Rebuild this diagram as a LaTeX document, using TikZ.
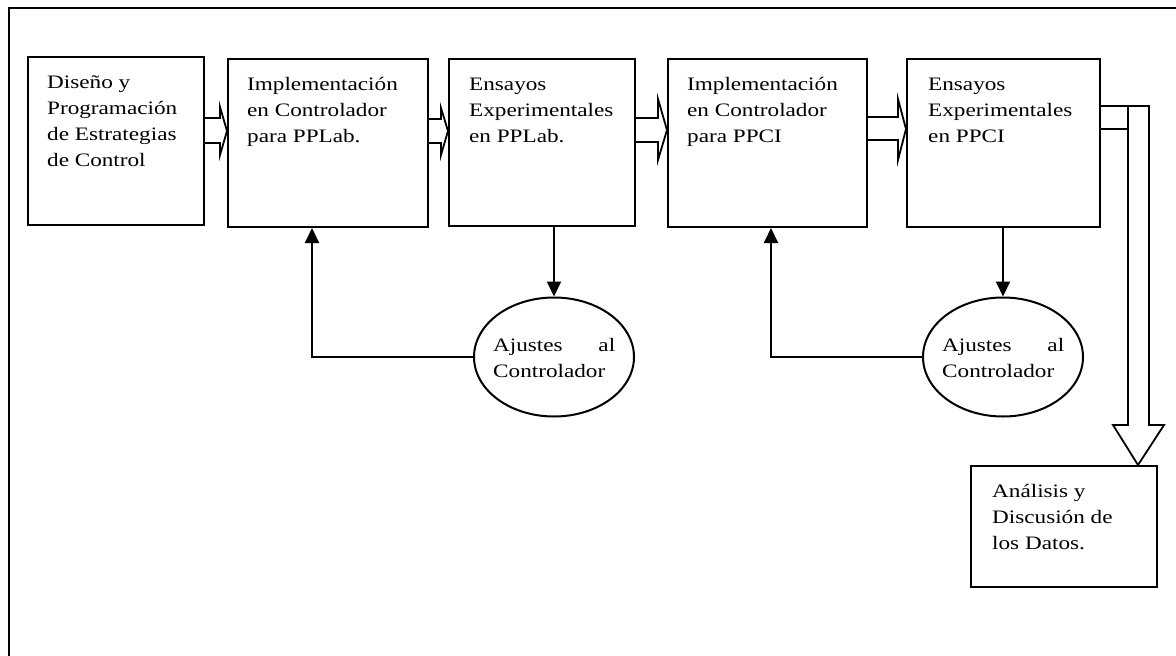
\documentclass[tikz,border=0pt]{standalone}
\usepackage{fontspec}
\setmainfont{Liberation Serif}[FakeStretch=1.22]
\usetikzlibrary{arrows.meta,shapes.geometric,calc}

\begin{document}
\begin{tikzpicture}[x=1pt,y=-1pt,
  border/.style={line width=2pt},
  stage/.style={draw,line width=2pt,inner sep=0pt,anchor=north west},
  oval/.style={draw,ellipse,line width=2pt,inner sep=0pt,minimum width=160pt,minimum height=119pt},
  caption/.style={anchor=north west,inner sep=0pt,align=left,font=\fontsize{19}{26}\selectfont},
  flow/.style={line width=2pt,-{Triangle[width=14pt,length=15pt]}},
  blockline/.style={line width=1.8pt,line join=miter}]

\useasboundingbox (0,0) rectangle (1176,656);

% outer frame (only top and left edges fall inside the page)
\draw[border] (1176,8) -- (9,8) -- (9,656);

% process stages
\node[stage,minimum width=176pt,minimum height=168pt] (b1) at (27,56) {};
\node[stage,minimum width=200pt,minimum height=168pt] (b2) at (227,58) {};
\node[stage,minimum width=186pt,minimum height=167pt] (b3) at (448,58) {};
\node[stage,minimum width=199pt,minimum height=168pt] (b4) at (667,58) {};
\node[stage,minimum width=193pt,minimum height=168pt] (b5) at (906,58) {};
\node[stage,minimum width=186pt,minimum height=121pt] (b6) at (970,465) {};

\node[caption] (t1) at ($(b1.north west)+(20,14.5)$) {\strut Diseño y\\Programación\\de Estrategias\\de Control};
\node[caption] (t2) at ($(b2.north west)+(20,14.5)$) {\strut Implementación\\en Controlador\\para PPLab.};
\node[caption] (t3) at ($(b3.north west)+(21,14.5)$) {\strut Ensayos\\Experimentales\\en PPLab.};
\node[caption] (t4) at ($(b4.north west)+(20,14.5)$) {\strut Implementación\\en Controlador\\para PPCI};
\node[caption] (t5) at ($(b5.north west)+(22,14.5)$) {\strut Ensayos\\Experimentales\\en PPCI};
\node[caption] (t6) at ($(b6.north west)+(22,14.5)$) {\strut Análisis y\\Discusión de\\los Datos.};

% adjustment ovals
\node[oval] (e1) at (554,357) {};
\node[oval] (e2) at (1003,357) {};
\node[caption] (t7) at (493,333.5) {\strut\makebox[122pt][s]{Ajustes\hfill al}\\Controlador};
\node[caption] (t8) at (942,333.5) {\strut\makebox[122pt][s]{Ajustes\hfill al}\\Controlador};

% hollow block arrows between stages
\draw[blockline] (b1.east |- 0,118) -- (220,118) -- (220,107) -- (b2.west |- 0,131)
                 -- (220,155) -- (220,143) -- (b1.east |- 0,143);
\draw[blockline] (b2.east |- 0,119) -- (441,119) -- (441,108) -- (b3.west |- 0,131)
                 -- (441,155) -- (441,143) -- (b2.east |- 0,143);
\draw[blockline] (b3.east |- 0,118) -- (658,118) -- (658,99) -- (b4.west |- 0,130)
                 -- (658,160) -- (658,142) -- (b3.east |- 0,142);
\draw[blockline] (b4.east |- 0,117) -- (898,117) -- (898,99) -- (b5.west |- 0,129)
                 -- (898,160) -- (898,140) -- (b4.east |- 0,140);

% bent block arrow down to the analysis stage
\draw[blockline] (b5.east |- 0,106) -- (1149,106) -- (1149,425) -- (1164,425)
                 -- (b6.north -| 1138,0) -- (1113,425) -- (1128,425) -- (1128,106);
\draw[blockline] (b5.east |- 0,129) -- (1128,129);

% tests feed the adjustments
\draw[flow] (b3.south -| e1.north) -- (e1.north);
\draw[flow] (b5.south -| e2.north) -- (e2.north);

% adjustments go back to the controller implementation
\draw[flow] (e1.west) -| (b2.south -| 312,0);
\draw[flow] (e2.west) -| (b4.south -| 771,0);
\end{tikzpicture}
\end{document}
